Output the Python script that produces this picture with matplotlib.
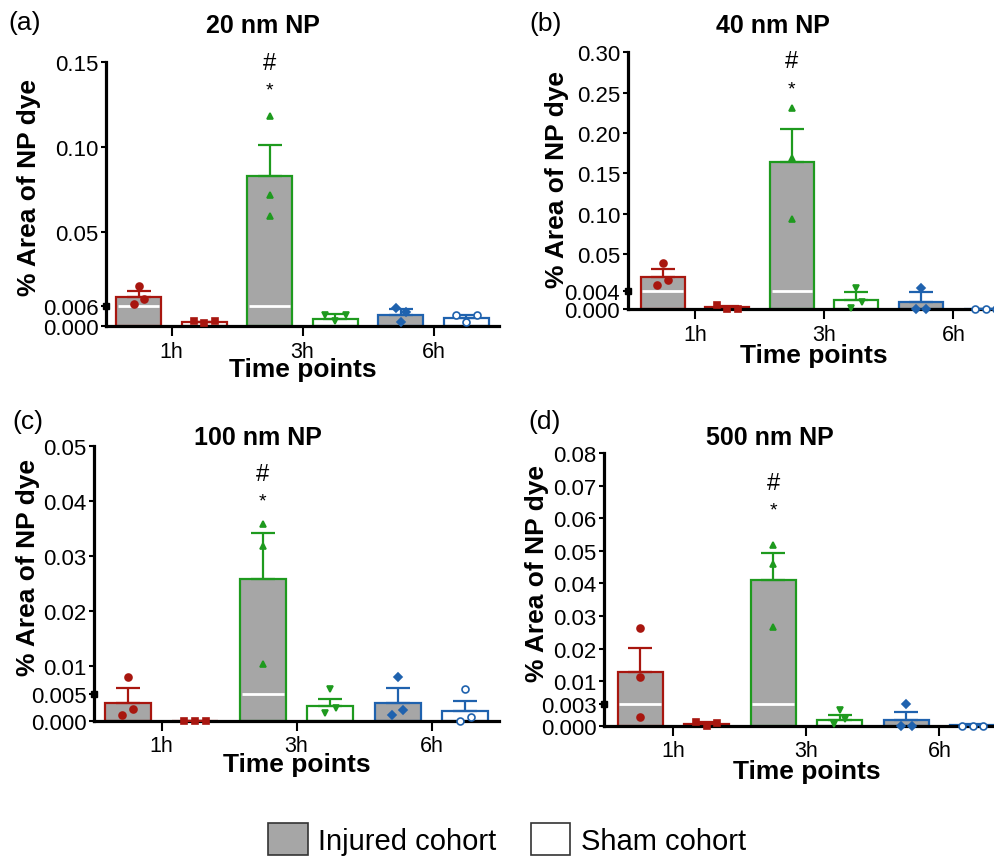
import numpy as np
import matplotlib
matplotlib.use("Agg")
import matplotlib.pyplot as plt
from matplotlib.patches import Patch
from matplotlib.transforms import blended_transform_factory

plt.rcParams['font.family'] = ['Liberation Sans', 'DejaVu Sans']

# ---- data: one row per panel, one column per time point ----
panel_titles = ['20 nm NP', '40 nm NP', '100 nm NP', '500 nm NP']
panel_tags = ['(a)', '(b)', '(c)', '(d)']
time_labels = ['1h', '3h', '6h']

injured_mean = [
    [0.0115, 0.0829, 0.0034],
    [0.0217, 0.1640, 0.0016],
    [0.0033, 0.0258, 0.0033],
    [0.0127, 0.0412, 0.0008],
]
injured_sem = [
    [0.0037, 0.0183, 0.0018],
    [0.0092, 0.0406, 0.0021],
    [0.0028, 0.0083, 0.0028],
    [0.0074, 0.0081, 0.0011],
]
sham_mean = [
    [0.0011, 0.0021, 0.0023],
    [0.0004, 0.0020, 0.0],
    [0.0, 0.0028, 0.0018],
    [0.0003, 0.0008, 0.0001],
]
sham_sem = [
    [0.0002, 0.0015, 0.0011],
    [0.0003, 0.0017, 0.0],
    [0.0, 0.0013, 0.0018],
    [0.0002, 0.0007, 0.0001],
]
# individual animals, left to right as plotted
injured_pts = [
    [[0.0074, 0.0178, 0.0103], [0.1182, 0.0716, 0.0594], [0.0054, 0.0013, 0.0042]],
    [[0.0114, 0.0384, 0.0176], [0.2307, 0.1686, 0.0933], [0.0, 0.0081, 0.0]],
    [[0.0011, 0.0080, 0.0021], [0.0359, 0.0319, 0.0104], [0.0011, 0.0080, 0.0020]],
    [[0.0262, 0.0114, 0.0012], [0.0518, 0.0461, 0.0266], [0.0, 0.0031, 0.0]],
]
sham_pts = [
    [[0.0016, 0.0009, 0.0016], [0.0034, 0.0016, 0.0034], [0.0034, 0.0013, 0.0034]],
    [[0.0009, 0.0, 0.0], [0.0002, 0.0081, 0.0015], [0.0, 0.0, 0.0]],
    [[0.0, 0.0, 0.0], [0.0014, 0.0059, 0.0023], [0.0, 0.0059, 0.0006]],
    [[0.00055, 0.0, 0.0004], [0.0002, 0.0021, 0.0009], [0.0, 0.0, 0.0]],
]

# two-segment y axes: lower segment 0..break, upper segment break..top
y_breaks = [0.006, 0.004, 0.005, 0.003]
y_tops = [0.15, 0.30, 0.05, 0.08]
upper_ticks = [
    [0.05, 0.10, 0.15],
    [0.05, 0.10, 0.15, 0.20, 0.25, 0.30],
    [0.01, 0.02, 0.03, 0.04, 0.05],
    [0.01, 0.02, 0.03, 0.04, 0.05, 0.06, 0.07, 0.08],
]

# ---- layout (pixels of a 994 x 862 canvas) ----
W, H = 994, 862
axes_px = [(106, 62.7, 499, 327), (627.7, 53.3, 1018, 310),
           (94, 446.7, 499, 721.7), (604.3, 454.3, 1006, 726.7)]
x_left = [-0.5, -0.52, -0.5, -0.52]
low_frac = [0.0745, 0.070, 0.097, 0.080]
tag_px = [(8, 30), (529, 31), (12, 429), (528, 429)]
title_px = [(263, 33.3), (773, 33.3), (258, 445), (770, 445)]
xlab_px = [(303, 377), (814, 363.5), (297, 772.5), (807, 779)]
ylab_px = [(29, 188), (557, 179), (28, 568), (537, 573)]
hash_y = [0.972, 0.942, 0.876, 0.869]
star_y = [0.875, 0.841, 0.782, 0.775]

colors = ['#A8160F', '#1E9A1E', '#1F62AE']
gray = '#A6A6A6'
inj_markers = ['o', '^', 'D']
sham_markers = ['s', 'v', 'o']
bar_w = 0.34
dodge = 0.25


def px_rect(l, t, r, b):
    return [l / W, 1 - b / H, (r - l) / W, (b - t) / H]


def segment_scale(b, top, f):
    def fwd(y):
        y = np.asarray(y, dtype=float)
        return np.where(y <= b, y / b * f, f + (y - b) / (top - b) * (1 - f))

    def inv(u):
        u = np.asarray(u, dtype=float)
        return np.where(u <= f, u / f * b, b + (u - f) / (1 - f) * (top - b))
    return fwd, inv


def spread(values, fwd, ax_h, thr=7.0, step=0.08):
    # horizontal offsets for points that would overlap on screen
    vals = np.asarray(values, dtype=float)
    ypix = fwd(vals) * ax_h
    order = np.argsort(ypix, kind='stable')
    clusters, cur = [], [order[0]]
    for i in order[1:]:
        if ypix[i] - ypix[cur[-1]] < thr:
            cur.append(i)
        else:
            clusters.append(cur)
            cur = [i]
    clusters.append(cur)
    offs = np.zeros(len(vals))
    for c in clusters:
        c = sorted(c)
        for k, i in enumerate(c):
            offs[i] = (k - (len(c) - 1) / 2) * step
    return offs


fig = plt.figure(figsize=(W / 100, H / 100), dpi=100)

for p in range(4):
    l, t, r, b = axes_px[p]
    ax = fig.add_axes(px_rect(l, t, r, b))
    ax_h = b - t
    brk, top, f = y_breaks[p], y_tops[p], low_frac[p]
    fwd, inv = segment_scale(brk, top, f)
    ax.set_yscale('function', functions=(fwd, inv))
    ax.set_ylim(0, top)
    ax.set_xlim(x_left[p], 2.5)

    for i in range(3):
        col = colors[i]
        for cohort, xs, means, sems, pts, mk, fill in [
            ('inj', i - dodge, injured_mean[p][i], injured_sem[p][i], injured_pts[p][i], inj_markers[i], gray),
            ('sham', i + dodge, sham_mean[p][i], sham_sem[p][i], sham_pts[p][i], sham_markers[i], 'white'),
        ]:
            ax.bar(xs, means, bar_w, color=fill, edgecolor=col, linewidth=1.6, zorder=2)
            if means > brk:
                ax.hlines(brk, xs - bar_w / 2 + 0.013, xs + bar_w / 2 - 0.013,
                          color='white', linewidth=2, zorder=2.5)
            ax.errorbar(xs, means, yerr=[[0], [sems]], fmt='none', ecolor=col,
                        elinewidth=1.6, capsize=8.5, capthick=1.6, zorder=3)
            offs = spread(pts, fwd, ax_h)
            mfc = 'white' if (cohort == 'sham' and i == 2) else col
            ax.plot(xs + offs, pts, linestyle='none', marker=mk, ms=5 if mk != 'D' else 4.2,
                    color=col, mfc=mfc, mew=1.2, zorder=4, clip_on=False)

    # significance marks over the injured 3h bar
    tr = blended_transform_factory(ax.transData, ax.transAxes)
    ax.text(1 - dodge, hash_y[p], '#', transform=tr, ha='center', va='baseline', fontsize=17)
    ax.text(1 - dodge, star_y[p], '*', transform=tr, ha='center', va='baseline', fontsize=14)

    yt = [0.0, brk] + upper_ticks[p]
    ax.set_yticks(yt)
    ax.set_yticklabels(['0.000', '%.3f' % brk] + ['%.2f' % v for v in upper_ticks[p]])
    ax.set_xticks(range(3))
    ax.set_xticklabels(time_labels)
    ax.tick_params(axis='both', width=1.5, colors='black')
    ax.tick_params(axis='x', length=7.5, pad=3, labelsize=15.5)
    ax.tick_params(axis='y', length=3.5, pad=2, labelsize=16)
    ax.yaxis.set_minor_locator(matplotlib.ticker.NullLocator())
    for s in ['top', 'right']:
        ax.spines[s].set_visible(False)
    for s in ['left', 'bottom']:
        ax.spines[s].set_linewidth(2.3)
    # segment break marker on the y axis
    ax.plot([0], [brk], marker='s', ms=4.5, color='black',
            transform=blended_transform_factory(ax.transAxes, ax.transData),
            clip_on=False, zorder=5)

    tx, ty = tag_px[p]
    fig.text(tx / W, 1 - ty / H, panel_tags[p], ha='left', va='baseline', fontsize=19)
    tx, ty = title_px[p]
    fig.text(tx / W, 1 - ty / H, panel_titles[p], ha='center', va='baseline',
             fontsize=18, fontweight='bold')
    tx, ty = xlab_px[p]
    fig.text(tx / W, 1 - ty / H, 'Time points', ha='center', va='baseline',
             fontsize=19, fontweight='bold')
    tx, ty = ylab_px[p]
    fig.text(tx / W, 1 - ty / H, '% Area of NP dye', ha='center', va='center',
             rotation=90, fontsize=19, fontweight='bold')

handles = [Patch(facecolor=gray, edgecolor='#333333', linewidth=1.2),
           Patch(facecolor='white', edgecolor='#333333', linewidth=1.2)]
fig.legend(handles, ['Injured cohort', 'Sham cohort'], loc='center',
           bbox_to_anchor=(507 / W, 1 - 840 / H), ncol=2, frameon=False, fontsize=21,
           handlelength=1.35, handleheight=1.35, handletextpad=0.35,
           columnspacing=1.2, borderpad=0, borderaxespad=0)

fig.savefig('out.png', dpi=100)
